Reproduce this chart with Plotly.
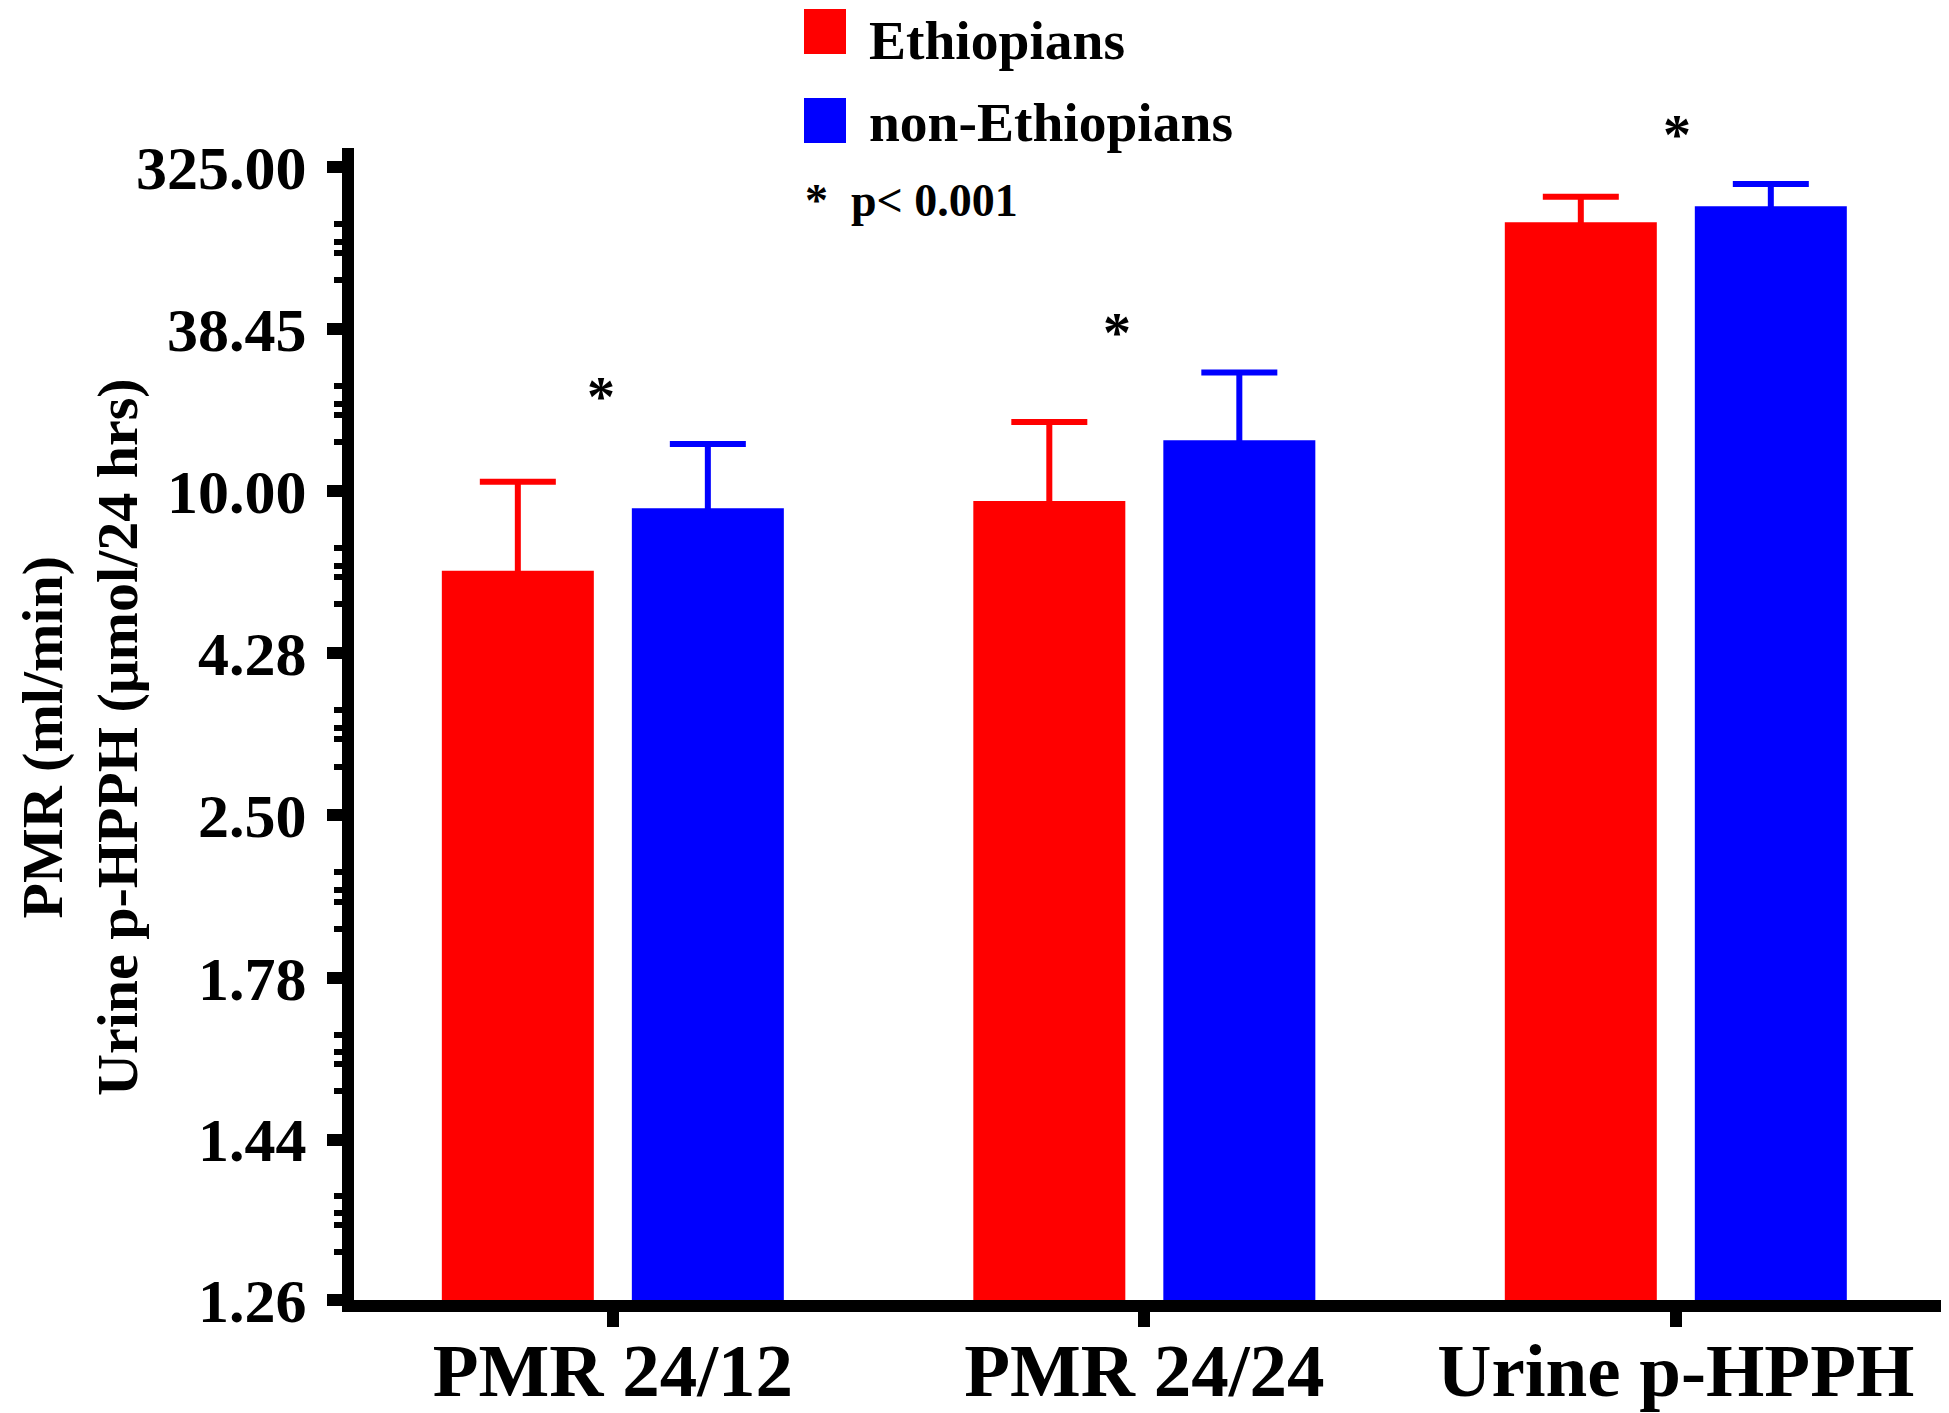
import numpy as np
import plotly.graph_objects as go

# Values (axis is log of ln(value))
categories = ["PMR 24/12", "PMR 24/24", "Urine p-HPPH"]
ethiopians = [6.27, 9.38, 140.4]
ethiopians_err = [4.36, 7.10, 63.2]
non_ethiopians = [8.96, 14.31, 176.7]
non_ethiopians_err = [4.95, 10.84, 70.3]

tick_values = [1.26, 1.44, 1.78, 2.50, 4.28, 10.00, 38.45, 325.00]
tick_labels = ["1.26", "1.44", "1.78", "2.50", "4.28", "10.00", "38.45", "325.00"]
minor_fracs = [0.35, 0.46, 0.53, 0.70]

# significance stars, placed over each group
star_x = [-0.023, 0.949, 2.002]
star_lift = [47, 40, 49]

FONT = "Liberation Serif"
RED = "#FF0000"
BLUE = "#0000FF"

# page geometry (the page body adds an 8px margin)
OFF = 8
W, H = 1949 - OFF, 1413 - OFF
ML, MR, MT, MB = 354 - OFF, 0, 148 - OFF, 113
TICK_SPAN = 1133  # px between lowest and highest major tick


def px_x(px):
    return (px - OFF - ML) / (W - ML - MR)


def px_y(py):
    return (H - MB - (py - OFF)) / (H - MT - MB)


def lnln(v):
    return np.log(np.log(np.asarray(v, dtype=float)))


def up_err(vals, errs):
    v = np.asarray(vals)
    return list(np.log(v + np.asarray(errs)) - np.log(v))


fig = go.Figure()
for name, vals, errs, color in [("Ethiopians", ethiopians, ethiopians_err, RED),
                                ("non-Ethiopians", non_ethiopians, non_ethiopians_err, BLUE)]:
    y = np.log(vals)
    fig.add_trace(go.Bar(
        x=categories, y=y, name=name,
        marker=dict(color=color, line=dict(width=0)),
        # minus error runs down into the bar so no lower cap is drawn
        error_y=dict(type="data", symmetric=False, array=up_err(vals, errs),
                     arrayminus=list(y), color=color, thickness=6, width=38),
    ))

# minor ticks between the major ones
ll = lnln(tick_values)
minor_vals = []
for lo, hi in zip(ll[:-1], ll[1:]):
    for f in minor_fracs:
        minor_vals.append(float(np.exp(hi - f * (hi - lo))))

plot_h = H - MT - MB
a = np.log10(np.log(tick_values[0]))
b = np.log10(np.log(tick_values[-1]))
y_top = b + (b - a) * (plot_h - TICK_SPAN) / TICK_SPAN

# stars above the higher error cap of each group
caps = np.maximum(np.array(ethiopians) + ethiopians_err, np.array(non_ethiopians) + non_ethiopians_err)
for x, c, lift in zip(star_x, caps, star_lift):
    fig.add_annotation(x=x, y=float(np.log10(np.log(c))), yshift=lift, text="*", showarrow=False,
                       font=dict(family=FONT, size=56, color="black", weight="bold"))

# legend drawn by hand
legend_font = dict(family=FONT, size=55.5, color="black", weight="bold")
fig.add_shape(type="rect", xref="paper", yref="paper",
              x0=px_x(804), x1=px_x(846), y0=px_y(54), y1=px_y(9),
              fillcolor=RED, line=dict(width=0))
fig.add_annotation(xref="paper", yref="paper", x=px_x(867), y=px_y(OFF),
                   xanchor="left", yanchor="top", showarrow=False, text="Ethiopians",
                   font=legend_font)
fig.add_shape(type="rect", xref="paper", yref="paper",
              x0=px_x(804), x1=px_x(846), y0=px_y(143), y1=px_y(98),
              fillcolor=BLUE, line=dict(width=0))
fig.add_annotation(xref="paper", yref="paper", x=px_x(867), y=px_y(122),
                   xanchor="left", yanchor="middle", showarrow=False, text="non-Ethiopians",
                   font=legend_font)
fig.add_annotation(xref="paper", yref="paper", x=px_x(803), y=px_y(201),
                   xanchor="left", yanchor="middle", showarrow=False, text="*  p< 0.001",
                   font=dict(family=FONT, size=46, color="black", weight="bold"))

# y-axis title (two lines, rotated), kept against the left edge
fig.add_annotation(xref="paper", yref="paper", x=px_x(OFF), y=px_y(737),
                   xanchor="left", yanchor="middle", showarrow=False, textangle=-90,
                   text="PMR (ml/min)<br>Urine p-HPPH (μmol/24 hrs)",
                   font=dict(family=FONT, size=58, color="black", weight="bold"))

fig.update_layout(
    width=W, height=H,
    margin=dict(l=ML, r=MR, t=MT, b=MB),
    paper_bgcolor="white", plot_bgcolor="white",
    showlegend=False,
    barmode="group", bargap=0.285, bargroupgap=0.2,
    font=dict(family=FONT, color="black"),
    xaxis=dict(
        range=[-0.487, 2.514], showgrid=False, zeroline=False, automargin=False,
        showline=True, linecolor="black", linewidth=12,
        ticks="outside", ticklen=15, tickwidth=12, tickcolor="black",
        ticklabelstandoff=-21,
        tickfont=dict(family=FONT, size=75, color="black", weight="bold"),
    ),
    yaxis=dict(
        type="log", range=[a, y_top], showgrid=False, zeroline=False, automargin=False,
        showline=True, linecolor="black", linewidth=12,
        tickmode="array", tickvals=list(np.log(tick_values)), ticktext=tick_labels,
        ticks="outside", ticklen=15, tickwidth=12, tickcolor="black",
        ticklabelstandoff=8,
        tickfont=dict(family=FONT, size=62, color="black", weight="bold"),
        minor=dict(tickmode="array", tickvals=minor_vals, ticks="outside",
                   ticklen=8, tickwidth=6, tickcolor="black"),
    ),
)

fig.write_html("out.html")
